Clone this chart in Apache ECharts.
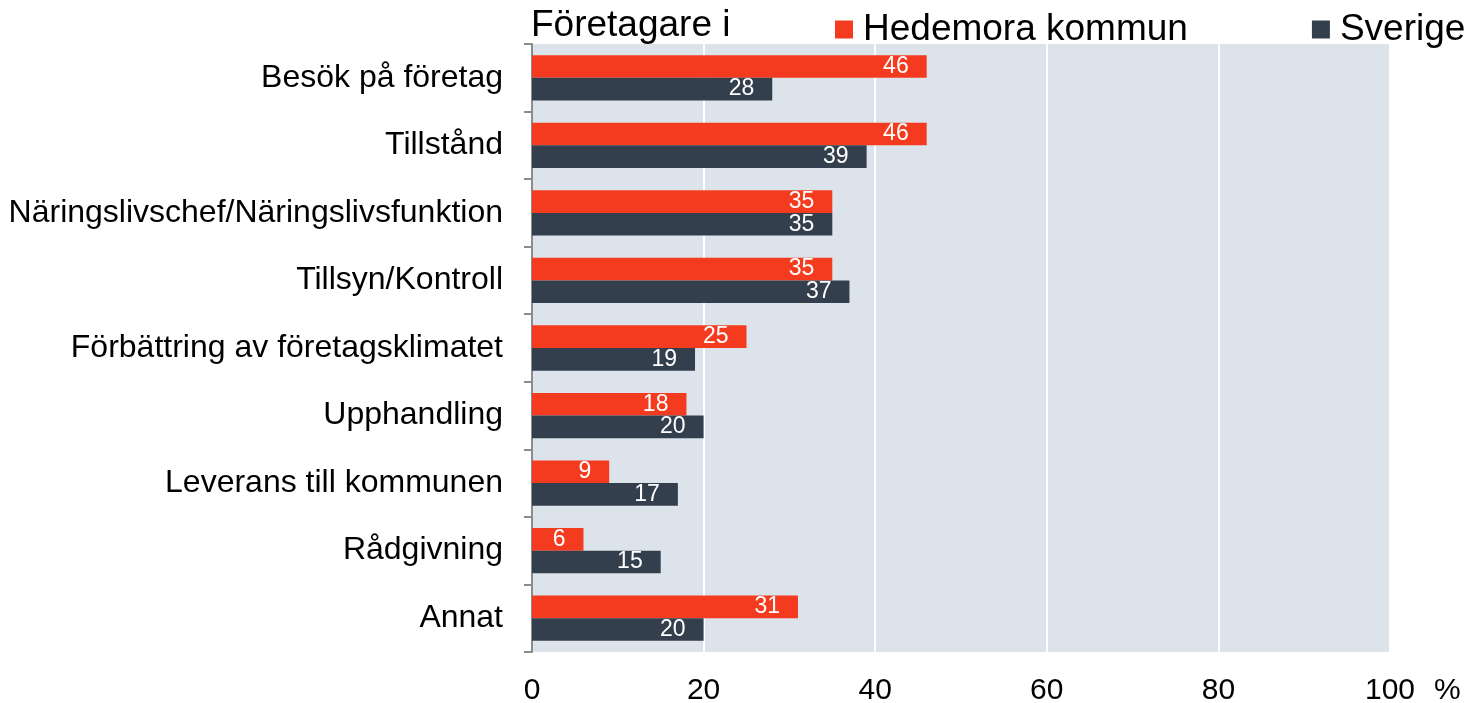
<!DOCTYPE html>
<html><head><meta charset="utf-8">
<script src="https://cdn.jsdelivr.net/npm/echarts@6/dist/echarts.min.js"></script>
<style>html,body{margin:0;padding:0;background:#fff}#c{width:1471px;height:703px}</style>
</head><body><div id="c"></div>
<script>
const categories = ["Besök på företag","Tillstånd","Näringslivschef/Näringslivsfunktion","Tillsyn/Kontroll","Förbättring av företagsklimatet","Upphandling","Leverans till kommunen","Rådgivning","Annat"];
const hedemora = [46,46,35,35,25,18,9,6,31];
const sverige = [28,39,35,37,19,20,17,15,20];
const xTicks = [0,20,40,60,80,100];
const FONT = '"Liberation Sans", Arial, sans-serif';
const chart = echarts.init(document.getElementById('c'));
chart.setOption({
  animation:false,
  textStyle:{fontFamily:FONT},
  title:{text:'Företagare i', left:526, top:2, textStyle:{fontFamily:FONT,fontSize:37,fontWeight:'normal',color:'#000'}},
  legend:{left:830, top:6, itemWidth:18, itemHeight:18, itemGap:124, icon:'rect',
    textStyle:{fontFamily:FONT,fontSize:37,color:'#000',padding:[0,0,0,5]},
    data:['Hedemora kommun','Sverige']},
  grid:{left:532, right:81, top:44, bottom:51, show:true, backgroundColor:'#DDE3EA', borderWidth:0, containLabel:false, outerBoundsMode:'none'},
  xAxis:{type:'value', min:0, max:100, interval:20,
    axisLine:{show:false}, axisTick:{show:false},
    splitLine:{lineStyle:{color:'#ffffff',width:2}},
    axisLabel:{fontFamily:FONT,fontSize:30,color:'#000',margin:24,formatter:v=>xTicks.includes(v)?String(v):''},
    name:'%', nameLocation:'end', nameGap:44,
    nameTextStyle:{fontFamily:FONT,fontSize:30,color:'#000',verticalAlign:'top',lineHeight:78}},
  yAxis:{type:'category', data:categories, inverse:true,
    axisLine:{show:true,lineStyle:{color:'#8c8c8c',width:2}},
    axisTick:{show:true,length:8,lineStyle:{color:'#8c8c8c',width:2}},
    axisLabel:{fontFamily:FONT,fontSize:32,color:'#000',margin:29}},
  series:[
    {name:'Hedemora kommun', type:'bar', data:hedemora, barGap:'0%', barCategoryGap:'33%',
     itemStyle:{color:'#F43B1F'},
     label:{show:true,position:'insideRight',distance:18,color:'#fff',fontFamily:FONT,fontSize:23}},
    {name:'Sverige', type:'bar', data:sverige, barGap:'0%', barCategoryGap:'33%',
     itemStyle:{color:'#333F4D'},
     label:{show:true,position:'insideRight',distance:18,color:'#fff',fontFamily:FONT,fontSize:23}}
  ]
});
</script></body></html>
